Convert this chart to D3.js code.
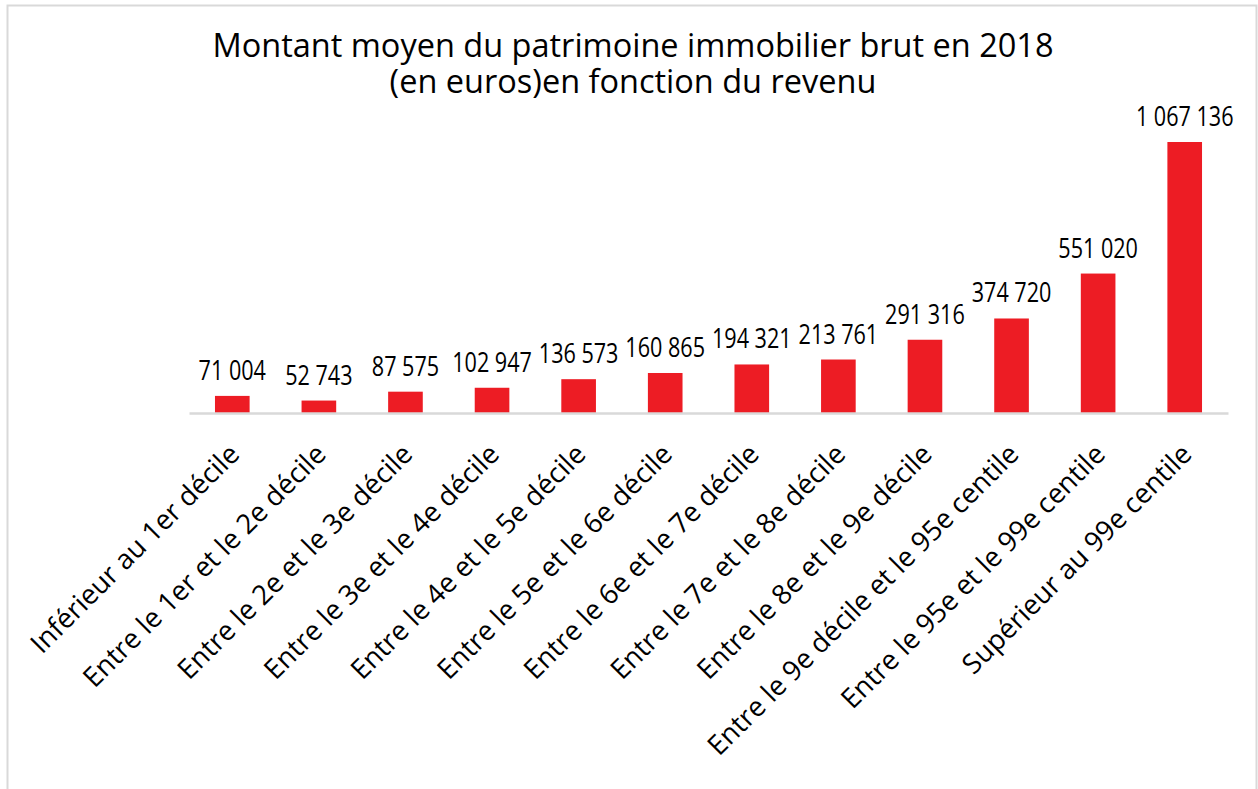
<!DOCTYPE html>
<html>
<head>
<meta charset="utf-8">
<script src="https://cdn.jsdelivr.net/npm/d3@7"></script>
<style>
  body { margin: 0; background: #fff; }
  svg { display: block; }
  .cat { font-family: "Open Sans", sans-serif; font-size: 27.5px; fill: #000; }
  .val { font-family: "Open Sans", sans-serif; font-size: 27px; fill: #000; }
  .title { font-family: "Open Sans", sans-serif; font-size: 32.5px; fill: #000; }
</style>
</head>
<body>
<svg id="chart"></svg>
<script>
const categories = [
  "Inférieur au 1er décile",
  "Entre le 1er et le 2e décile",
  "Entre le 2e et le 3e décile",
  "Entre le 3e et le 4e décile",
  "Entre le 4e et le 5e décile",
  "Entre le 5e et le 6e décile",
  "Entre le 6e et le 7e décile",
  "Entre le 7e et le 8e décile",
  "Entre le 8e et le 9e décile",
  "Entre le 9e décile et le 95e centile",
  "Entre le 95e et le 99e centile",
  "Supérieur au 99e centile"
];
const values = [71004, 52743, 87575, 102947, 136573, 160865, 194321, 213761, 291316, 374720, 551020, 1067136];
const titleLines = [
  "Montant moyen du patrimoine immobilier brut en 2018",
  "(en euros)en fonction du revenu"
];

const svgWidth = 1258, svgHeight = 789;
const base = 413;

const svg = d3.select("#chart")
  .attr("width", svgWidth)
  .attr("height", svgHeight);

// cadre
svg.append("rect")
  .attr("x", 7.5).attr("y", 5.5)
  .attr("width", 1249).attr("height", 800)
  .attr("fill", "none")
  .attr("stroke", "#d9d9d9")
  .attr("stroke-width", 2);

const x = d3.scaleBand()
  .domain(categories)
  .range([189, 1228])
  .paddingInner(0.6)
  .paddingOuter(0.3);

const y = d3.scaleLinear()
  .domain([0, 1067136])
  .range([base + 1, 142]);

const fr = d3.formatLocale({ decimal: ",", thousands: " ", grouping: [3], currency: ["", " €"] });
const fmt = fr.format(",.0f");

// Bars
svg.selectAll(".bar")
  .data(values)
  .enter()
  .append("rect")
  .attr("class", "bar")
  .attr("x", (d, i) => x(categories[i]))
  .attr("y", d => y(d))
  .attr("width", x.bandwidth())
  .attr("height", d => y(0) - y(d))
  .attr("fill", "#ed1c24");

// baseline
svg.append("g")
  .attr("transform", `translate(0,${base})`)
  .call(d3.axisBottom(x).tickSize(0).tickFormat(""))
  .call(g => g.select(".domain").attr("stroke", "#d9d9d9").attr("stroke-width", 2.5));

// Value labels (compressed horizontally, the original font is narrow)
svg.selectAll(".val")
  .data(values)
  .enter()
  .append("text")
  .attr("class", "val")
  .attr("transform", (d, i) => `translate(${x(categories[i]) + x.bandwidth() / 2},${y(d) - 16}) scale(0.8,1)`)
  .attr("text-anchor", "middle")
  .text(d => fmt(d));

// Category labels
svg.selectAll(".cat")
  .data(categories)
  .enter()
  .append("text")
  .attr("class", "cat")
  .attr("transform", d => `translate(${x(d) + x.bandwidth() / 2 + 2},449) rotate(-45)`)
  .attr("text-anchor", "end")
  .attr("dy", "0.35em")
  .text(d => d);

// Title
svg.append("text")
  .attr("class", "title")
  .attr("text-anchor", "middle")
  .selectAll("tspan")
  .data(titleLines)
  .enter()
  .append("tspan")
  .attr("x", 633)
  .attr("y", (d, i) => 57 + i * 36)
  .text(d => d);
</script>
</body>
</html>
